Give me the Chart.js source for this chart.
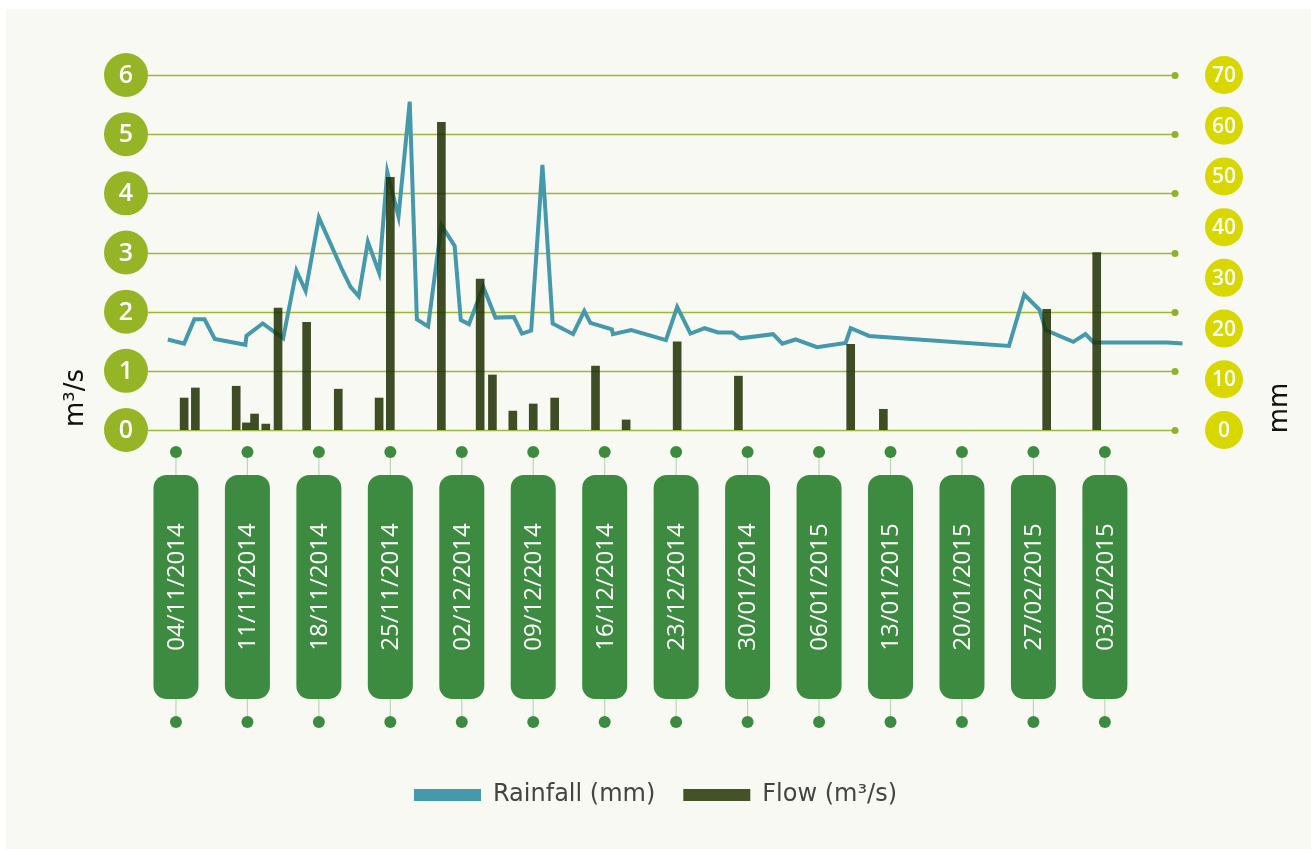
<!DOCTYPE html>
<html>
<head>
<meta charset="utf-8">
<title>Rainfall and flow</title>
<script src="https://cdn.jsdelivr.net/npm/chart.js@4.4.1/dist/chart.umd.min.js"></script>
<style>
  html, body { margin: 0; padding: 0; background: #ffffff; }
  #wrap { position: absolute; left: 0; top: 0; width: 1311px; height: 849px; }
</style>
</head>
<body>
<div id="wrap"><canvas id="chart" width="1311" height="849"></canvas></div>
<script>
// x positions are days counted from 04/11/2014
const dateLabels = ['04/11/2014', '11/11/2014', '18/11/2014', '25/11/2014', '02/12/2014', '09/12/2014', '16/12/2014',
    '23/12/2014', '30/01/2014', '06/01/2015', '13/01/2015', '20/01/2015', '27/02/2015', '03/02/2015'];
const leftTicks = [0, 1, 2, 3, 4, 5, 6];
const rightTicks = [0, 10, 20, 30, 40, 50, 60, 70];

// line series
const rainfallDays = [-0.8, 0.8, 1.8, 2.8, 3.8, 6.8, 6.9, 8.5, 10.5, 11.8, 12.7, 14.0, 16.3, 17.1, 17.9, 18.8, 19.9, 20.7,
    21.8, 22.9, 23.6, 24.7, 26.0, 27.3, 27.9, 28.7, 30.1, 31.3, 33.1, 33.9, 34.8, 35.9, 36.9, 38.9, 40.0, 40.6, 42.7, 42.8,
    44.6, 48.0, 49.1, 50.4, 51.8, 53.1, 54.5, 55.3, 58.5, 59.4, 60.7, 62.8, 65.6, 66.1, 67.9, 81.6, 83.1, 84.6, 85.2, 87.9,
    89.1, 89.9, 97.1, 98.6];
const rainfallValues = [1.53, 1.46, 1.87, 1.87, 1.54, 1.44, 1.59, 1.80, 1.55, 2.69, 2.35, 3.59, 2.70, 2.42, 2.26, 3.18, 2.66, 4.36,
    3.61, 5.55, 1.87, 1.75, 3.46, 3.11, 1.86, 1.79, 2.42, 1.90, 1.91, 1.63, 1.68, 4.48, 1.80, 1.62, 2.01, 1.81, 1.70, 1.62,
    1.69, 1.52, 2.08, 1.63, 1.72, 1.65, 1.65, 1.55, 1.62, 1.46, 1.53, 1.40, 1.47, 1.72, 1.59, 1.42, 2.29, 2.03, 1.69, 1.49,
    1.62, 1.48, 1.48, 1.46];

// bar series
const flowDays = [0.8, 1.9, 5.9, 6.9, 7.7, 8.8, 10.0, 12.8, 15.9, 19.9, 21.0, 26.0, 29.8, 31.0, 33.0, 35.0, 37.1, 41.1,
    44.1, 49.1, 55.1, 66.1, 69.3, 85.3, 90.2];
const flowValues = [0.54, 0.71, 0.74, 0.12, 0.27, 0.10, 2.06, 1.82, 0.69, 0.54, 4.27, 5.20, 2.55, 0.93, 0.32, 0.44, 0.54, 1.08,
    0.17, 1.49, 0.91, 1.45, 0.35, 2.04, 3.00];

const COLORS = {
    panel: '#f8f9f2',
    grid: '#9dba35',
    gridDot: '#8fb22a',
    leftBubble: '#96b526',
    rightBubble: '#d8d800',
    dateBox: '#3d8b40',
    dateStem: '#bcd6b4',
    rainfall: '#4698ab',
    flow: 'rgba(29, 47, 2, 0.85)',
    flowLegend: '#435327',
    text: '#444444'
};
const FONT = '"Open Sans", "DejaVu Sans", sans-serif';
const WIDE_FONT = '"DejaVu Sans", sans-serif';

const Decor = {
    id: 'decor',

    beforeDraw: (chart) => {
        const ctx = chart.ctx;
        ctx.save();
        ctx.fillStyle = '#ffffff';
        ctx.fillRect(0, 0, chart.width, chart.height);
        ctx.fillStyle = COLORS.panel;
        ctx.fillRect(6, 9, chart.width - 6, chart.height - 9);
        ctx.restore();
    },

    beforeDatasetsDraw: (chart) => {
        const { ctx, chartArea } = chart;
        const y = chart.scales.y;
        ctx.save();
        leftTicks.forEach(v => {
            const py = Math.round(y.getPixelForValue(v)) + 0.5;
            ctx.strokeStyle = COLORS.grid;
            ctx.lineWidth = 1.5;
            ctx.beginPath();
            ctx.moveTo(chartArea.left, py);
            ctx.lineTo(chartArea.right, py);
            ctx.stroke();
            ctx.fillStyle = COLORS.gridDot;
            ctx.beginPath();
            ctx.arc(chartArea.right, py, 3.5, 0, Math.PI * 2);
            ctx.fill();
        });
        ctx.restore();
    },

    afterDraw: (chart) => {
        const { ctx } = chart;
        const x = chart.scales.x;
        const y = chart.scales.y;
        const y2 = chart.scales.y2;
        ctx.save();
        ctx.textAlign = 'center';
        ctx.textBaseline = 'middle';

        // left bubbles
        leftTicks.forEach(v => {
            const py = y.getPixelForValue(v);
            ctx.fillStyle = COLORS.leftBubble;
            ctx.beginPath();
            ctx.arc(126, py, 22, 0, Math.PI * 2);
            ctx.fill();
            ctx.fillStyle = '#ffffff';
            ctx.font = '600 25px ' + FONT;
            ctx.fillText(String(v), 126, py + 1);
        });

        // right bubbles
        rightTicks.forEach(v => {
            const py = y2.getPixelForValue(v);
            ctx.fillStyle = COLORS.rightBubble;
            ctx.beginPath();
            ctx.arc(1224, py, 19, 0, Math.PI * 2);
            ctx.fill();
            ctx.fillStyle = '#ffffff';
            ctx.font = '600 21px ' + FONT;
            ctx.fillText(String(v), 1224, py + 1);
        });

        // axis titles
        ctx.fillStyle = '#111111';
        ctx.font = '26px ' + WIDE_FONT;
        ctx.save();
        ctx.translate(76, 398);
        ctx.rotate(-Math.PI / 2);
        ctx.fillText('m³/s', 0, 0);
        ctx.restore();
        ctx.save();
        ctx.translate(1280, 408);
        ctx.rotate(-Math.PI / 2);
        ctx.fillText('mm', 0, 0);
        ctx.restore();

        // date boxes
        x.ticks.forEach((t, i) => {
            const px = x.getPixelForValue(t.value);
            const label = dateLabels[i];
            if (!label) return;
            ctx.strokeStyle = COLORS.dateStem;
            ctx.lineWidth = 1.2;
            ctx.beginPath();
            ctx.moveTo(px, 452);
            ctx.lineTo(px, 722);
            ctx.stroke();
            ctx.fillStyle = COLORS.dateBox;
            ctx.beginPath();
            ctx.roundRect(px - 22.5, 475, 45, 224, 13);
            ctx.fill();
            [452, 722].forEach(dy => {
                ctx.beginPath();
                ctx.arc(px, dy, 6, 0, Math.PI * 2);
                ctx.fill();
            });
            ctx.save();
            ctx.translate(px + 1, 587);
            ctx.rotate(-Math.PI / 2);
            ctx.fillStyle = '#ffffff';
            ctx.font = '500 24px ' + FONT;
            ctx.fillText(label, 0, 0);
            ctx.restore();
        });
        ctx.restore();
    }
};

const chart = new Chart(document.getElementById('chart').getContext('2d'), {
    type: 'bar',
    data: {
        datasets: [
            {
                type: 'line',
                label: 'Rainfall (mm)',
                data: rainfallDays.map((d, i) => ({ x: d, y: rainfallValues[i] })),
                borderColor: COLORS.rainfall,
                backgroundColor: COLORS.rainfall,
                borderWidth: 4,
                pointRadius: 0,
                tension: 0,
                clip: false,
                order: 2
            },
            {
                type: 'bar',
                label: 'Flow (m³/s)',
                data: flowDays.map((d, i) => ({ x: d, y: flowValues[i] })),
                backgroundColor: COLORS.flow,
                barThickness: 8,
                order: 1
            }
        ]
    },
    options: {
        responsive: false,
        animation: false,
        layout: { padding: { top: 75, left: 0, right: 0, bottom: 32 } },
        plugins: {
            tooltip: { enabled: false },
            legend: {
                position: 'bottom',
                labels: {
                    boxWidth: 67,
                    boxHeight: 12,
                    padding: 28,
                    color: COLORS.text,
                    font: { family: WIDE_FONT, size: 24 },
                    generateLabels: (c) => c.data.datasets.map((ds, i) => ({
                        text: ds.label,
                        fillStyle: i === 0 ? COLORS.rainfall : COLORS.flowLegend,
                        strokeStyle: i === 0 ? COLORS.rainfall : COLORS.flowLegend,
                        lineWidth: 0,
                        fontColor: COLORS.text,
                        datasetIndex: i
                    }))
                }
            }
        },
        scales: {
            x: {
                type: 'linear',
                min: -2.74,
                max: 97.87,
                offset: false,
                afterBuildTicks: (scale) => {
                    scale.ticks = dateLabels.map((l, i) => ({ value: i * 7 }));
                },
                afterFit: (scale) => { scale.height = 325; },
                ticks: { display: false },
                grid: { display: false },
                border: { display: false }
            },
            y: {
                position: 'left',
                min: 0,
                max: 6,
                ticks: { display: false, stepSize: 1 },
                afterFit: (scale) => { scale.width = 148; },
                grid: { display: false },
                border: { display: false }
            },
            y2: {
                position: 'right',
                min: 0,
                max: 70,
                ticks: { display: false, stepSize: 10 },
                afterFit: (scale) => { scale.width = 136; },
                grid: { display: false },
                border: { display: false }
            }
        }
    },
    plugins: [Decor]
});
</script>
</body>
</html>
